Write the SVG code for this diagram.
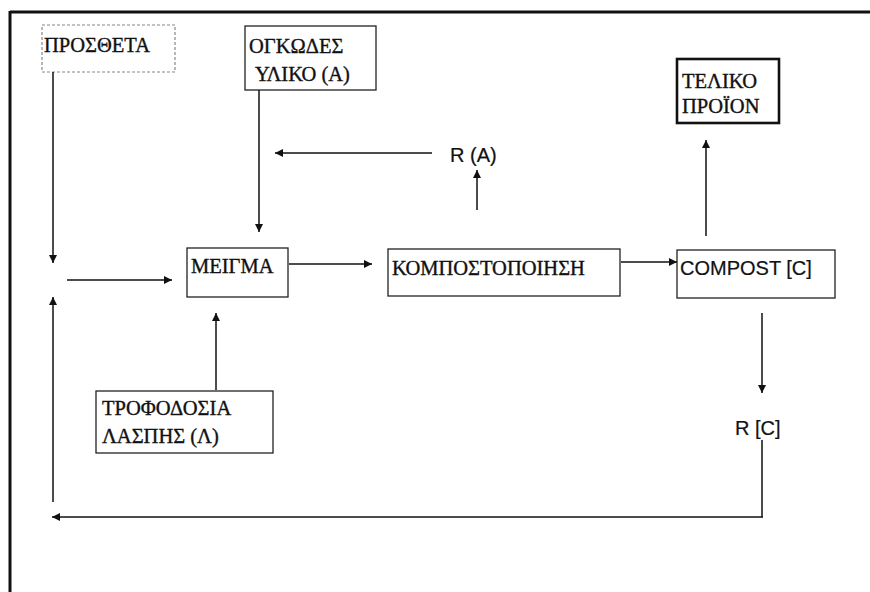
<svg xmlns="http://www.w3.org/2000/svg" width="870" height="592" viewBox="0 0 870 592">
<defs>
<marker id="ah" viewBox="0 0 10 10" refX="10" refY="5" markerWidth="9" markerHeight="8" markerUnits="userSpaceOnUse" orient="auto">
<path d="M0,0 L10,5 L0,10 z" fill="#111"/>
</marker>
<style>
.box{fill:none;stroke:#222;stroke-width:1.3}
.dot{fill:none;stroke:#888;stroke-width:1.2;stroke-dasharray:3 2}
.thick{fill:none;stroke:#111;stroke-width:2.6}
.gr{font-family:"Liberation Serif","DejaVu Serif",serif;font-size:20.5px;fill:#111;stroke:#111;stroke-width:0.35}
.lat{font-family:"Liberation Sans",Arial,sans-serif;font-size:20px;fill:#111;stroke:#111;stroke-width:0.2}
.ln{fill:none;stroke:#111;stroke-width:1.5}
.arr{fill:none;stroke:#111;stroke-width:1.5;marker-end:url(#ah)}
</style>
</defs>
<rect width="870" height="592" fill="#fff"/>
<g id="frame">
<line x1="10" y1="12" x2="870" y2="12" stroke="#111" stroke-width="3"/>
<line x1="10" y1="11" x2="10" y2="592" stroke="#111" stroke-width="3"/>
</g>
<g id="prostheta">
<rect class="dot" x="42" y="25" width="133" height="47"/>
<text class="gr" x="44" y="52">ΠΡΟΣΘΕΤΑ</text>
</g>
<g id="ogkodes">
<rect class="box" x="245" y="26" width="131" height="64"/>
<text class="gr" x="249" y="53">ΟΓΚΩΔΕΣ</text>
<text class="gr" x="255" y="81">ΥΛΙΚΟ (Α)</text>
</g>
<g id="teliko">
<rect class="thick" x="677" y="59" width="102" height="64"/>
<text class="gr" x="682" y="88">ΤΕΛΙΚΟ</text>
<text class="gr" x="682" y="113">ΠΡΟΪΟΝ</text>
</g>
<g id="meigma">
<rect class="box" x="187" y="248" width="101" height="49"/>
<text class="gr" x="191" y="273">ΜΕΙΓΜΑ</text>
</g>
<g id="kompostopoiisi">
<rect class="box" x="388" y="249" width="232" height="47"/>
<text class="gr" x="392" y="275">ΚΟΜΠΟΣΤΟΠΟΙΗΣΗ</text>
</g>
<g id="compost">
<rect class="box" x="677" y="250" width="158" height="48"/>
<text class="lat" x="680" y="275">COMPOST [C]</text>
</g>
<g id="trofodosia">
<rect class="box" x="96" y="391" width="177" height="62"/>
<text class="gr" x="102" y="415">ΤΡΟΦΟΔΟΣΙΑ</text>
<text class="gr" x="102" y="443">ΛΑΣΠΗΣ (Λ)</text>
</g>
<g id="ra">
<text class="lat" x="450" y="162">R (A)</text>
</g>
<g id="rc">
<text class="lat" x="735" y="435">R [C]</text>
</g>
<g id="connectors">
<line class="arr" x1="53" y1="72" x2="53" y2="263"/>
<line class="arr" x1="259" y1="90" x2="259" y2="232"/>
<line class="arr" x1="432" y1="153" x2="275" y2="153"/>
<line class="arr" x1="477" y1="210" x2="477" y2="170"/>
<line class="arr" x1="67" y1="280" x2="172" y2="280"/>
<line class="arr" x1="289" y1="264" x2="372" y2="264"/>
<line class="arr" x1="621" y1="262" x2="677" y2="262"/>
<line class="arr" x1="706" y1="236" x2="706" y2="140"/>
<line class="arr" x1="216" y1="390" x2="216" y2="313"/>
<line class="arr" x1="762" y1="313" x2="762" y2="393"/>
<line class="ln" x1="762" y1="440" x2="762" y2="517"/>
<line class="arr" x1="763" y1="517" x2="52" y2="517"/>
<line class="arr" x1="53" y1="502" x2="53" y2="297"/>
</g>
</svg>
